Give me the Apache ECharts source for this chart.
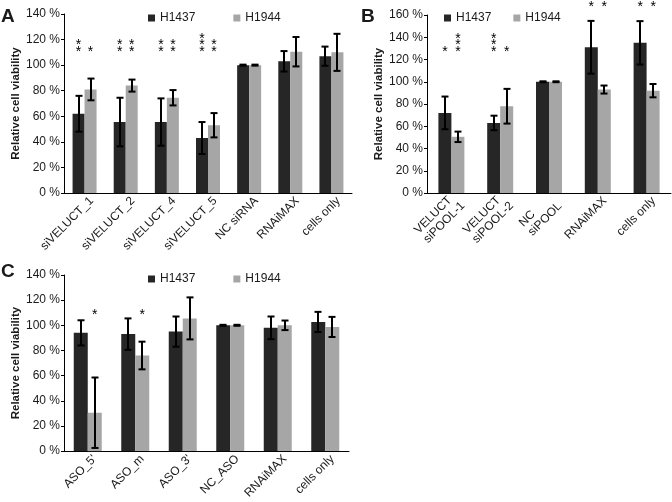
<!DOCTYPE html>
<html>
<head>
<meta charset="utf-8">
<script src="https://cdn.jsdelivr.net/npm/echarts@6/dist/echarts.min.js"></script>
<style>
html, body { margin: 0; padding: 0; background: #fff; }
#chart { width: 672px; height: 502px; }
</style>
</head>
<body>
<div id="chart"></div>
<script>
// panel A
const catsA = ['siVELUCT_1', 'siVELUCT_2', 'siVELUCT_4', 'siVELUCT_5', 'NC siRNA', 'RNAiMAX', 'cells only']
const h1437A = [62, 55.5, 55.5, 43, 100, 103, 107]
const h1437ErrA = [14, 19, 18.5, 12.5, 0.4, 8, 7.5]
const h1944A = [81, 84, 74.5, 53, 100, 110.5, 110]
const h1944ErrA = [8.5, 4.7, 6, 9.5, 0.4, 11.5, 14.5]
const starsH1437A = [2, 2, 2, 3, 0, 0, 0]
const starsH1944A = [1, 2, 2, 2, 0, 0, 0]
const starLevelA = [113, 113, 113, 113, 113, 113, 113]

// panel B
const catsB = ['VELUCT\nsiPOOL-1', 'VELUCT\nsiPOOL-2', 'NC\nsiPOOL', 'RNAiMAX', 'cells only']
const h1437B = [72, 63, 100, 131, 135]
const h1437ErrB = [14.7, 6.5, 0.4, 23.7, 19.5]
const h1944B = [50.5, 78, 100, 93, 92]
const h1944ErrB = [4.7, 15.6, 0.4, 3.6, 6]
const starsH1437B = [1, 3, 0, 1, 1]
const starsH1944B = [3, 1, 0, 1, 1]
const starLevelB = [130, 130, 130, 170, 170]

// panel C
const catsC = ['ASO_5\'', 'ASO_m', 'ASO_3\'', 'NC_ASO', 'RNAiMAX', 'cells only']
const h1437C = [94, 93, 95, 100, 98, 102.7]
const h1437ErrC = [10, 12.5, 12, 0.4, 9, 8]
const h1944C = [30.5, 76, 105.5, 100, 100, 98.7]
const h1944ErrC = [28, 11, 16.7, 0.4, 3.8, 8]
const starsH1437C = [0, 0, 0, 0, 0, 0]
const starsH1944C = [1, 1, 0, 0, 0, 0]
const starLevelC = [111, 111, 111, 111, 111, 111]

const yTicksA = [0, 20, 40, 60, 80, 100, 120, 140]
const yTicksB = [0, 20, 40, 60, 80, 100, 120, 140, 160]

const DARK = '#262626'
const LIGHT = '#a6a6a6'
const TXT = '#1a1a1a'
const FONT = 'Liberation Sans'

const myChart = echarts.init(document.getElementById('chart'))

// 两行标签左对齐
const measure = document.createElement('canvas').getContext('2d')
measure.font = '12px ' + FONT
const rich = {}
function labelFmt (v) {
  if (v.indexOf('\n') < 0) return v
  const lines = v.split('\n')
  const w = Math.ceil(Math.max(...lines.map(s => measure.measureText(s).width)))
  const key = 'w' + w
  rich[key] = { width: w, align: 'left', fontSize: 12, fontFamily: FONT, color: TXT, lineHeight: 13 }
  return lines.map(s => '{' + key + '|' + s + '}').join('\n')
}
catsB.forEach(labelFmt)

function xAxis (idx, cats) {
  return {
    type: 'category', gridIndex: idx, data: cats,
    axisLine: { lineStyle: { color: '#000', width: 1 } },
    axisTick: { length: 4, lineStyle: { color: '#000' } },
    axisLabel: {
      interval: 0, rotate: 45, margin: 6, fontSize: 12, color: TXT, fontFamily: FONT,
      lineHeight: 13, padding: [10, -5, 0, 0], formatter: labelFmt, rich: rich
    }
  }
}

function yAxis (idx, ticks) {
  return {
    type: 'value', gridIndex: idx,
    min: ticks[0], max: ticks[ticks.length - 1], interval: 20,
    name: 'Relative cell viability', nameLocation: 'middle', nameGap: 42,
    nameTextStyle: { fontSize: 11.5, fontWeight: 'bold', color: TXT, fontFamily: FONT },
    axisLine: { show: true, lineStyle: { color: '#000', width: 1 } },
    axisTick: { show: true, length: 3, lineStyle: { color: '#000' } },
    axisLabel: { formatter: '{value} %', margin: 4, fontSize: 12, color: TXT, fontFamily: FONT },
    splitLine: { show: false }
  }
}

function bars (idx, name, data, color, bw) {
  return {
    type: 'bar', name: name, xAxisIndex: idx, yAxisIndex: idx,
    data: data, barWidth: bw, barGap: '0%',
    itemStyle: { color: color }
  }
}

// 误差线
function errors (idx, means, errs, side, bw) {
  return {
    type: 'custom', xAxisIndex: idx, yAxisIndex: idx, z: 10, silent: true,
    data: means.map((m, i) => [i, m, errs[i]]),
    renderItem (params, api) {
      const i = api.value(0)
      const m = api.value(1)
      const e = api.value(2)
      const top = api.coord([i, m + e])
      const bot = api.coord([i, m - e])
      const x = Math.round(top[0] + side * bw / 2)
      const st = { stroke: '#000', lineWidth: 2 }
      return {
        type: 'group',
        children: [
          { type: 'line', shape: { x1: x, y1: top[1], x2: x, y2: bot[1] }, style: st },
          { type: 'line', shape: { x1: x - 3.5, y1: top[1], x2: x + 3.5, y2: top[1] }, style: st },
          { type: 'line', shape: { x1: x - 3.5, y1: bot[1], x2: x + 3.5, y2: bot[1] }, style: st }
        ]
      }
    }
  }
}

// 显著性星号
function stars (idx, counts, levels, side, bw) {
  return {
    type: 'custom', xAxisIndex: idx, yAxisIndex: idx, z: 10, silent: true, clip: false,
    data: counts.map((c, i) => [i, levels[i], c]),
    renderItem (params, api) {
      const c = api.value(2)
      if (!c) return null
      const p = api.coord([api.value(0), api.value(1)])
      const x = p[0] + side * bw / 2
      const children = []
      for (let k = 0; k < c; k++) {
        children.push({
          type: 'text',
          style: { text: '*', x: x, y: p[1] + 3.5 - k * 6.5, align: 'center', verticalAlign: 'middle', fontSize: 14, fontFamily: FONT, fill: '#000' }
        })
      }
      return { type: 'group', children: children }
    }
  }
}

function legend (left, top, gap) {
  return {
    data: ['H1437', 'H1944'], left: left, top: top, itemGap: gap,
    icon: 'rect', itemWidth: 7, itemHeight: 7, itemStyle: { borderWidth: 0 },
    textStyle: { fontSize: 12, color: TXT, fontFamily: FONT },
    selectedMode: false
  }
}

const letter = { fontSize: 19, fontWeight: 'bold', color: TXT, fontFamily: FONT }

myChart.setOption({
  animation: false,
  title: [
    { text: 'A', left: 1, top: 7, padding: 0, textStyle: letter },
    { text: 'B', left: 361, top: 7, padding: 0, textStyle: letter },
    { text: 'C', left: 1, top: 262, padding: 0, textStyle: letter }
  ],
  legend: [legend(143, 7, 38), legend(439, 7, 22), legend(143, 268, 38)],
  grid: [
    { left: 64, right: 320, top: 14, bottom: 309 },
    { left: 427, right: 1, top: 15, bottom: 309 },
    { left: 64, right: 323, top: 275, bottom: 48 }
  ],
  xAxis: [xAxis(0, catsA), xAxis(1, catsB), xAxis(2, catsC)],
  yAxis: [yAxis(0, yTicksA), yAxis(1, yTicksB), yAxis(2, yTicksA)],
  series: [
    bars(0, 'H1437', h1437A, DARK, 12),
    bars(0, 'H1944', h1944A, LIGHT, 12),
    errors(0, h1437A, h1437ErrA, -1, 12),
    errors(0, h1944A, h1944ErrA, 1, 12),
    stars(0, starsH1437A, starLevelA, -1, 12),
    stars(0, starsH1944A, starLevelA, 1, 12),

    bars(1, 'H1437', h1437B, DARK, 13),
    bars(1, 'H1944', h1944B, LIGHT, 13),
    errors(1, h1437B, h1437ErrB, -1, 13),
    errors(1, h1944B, h1944ErrB, 1, 13),
    stars(1, starsH1437B, starLevelB, -1, 13),
    stars(1, starsH1944B, starLevelB, 1, 13),

    bars(2, 'H1437', h1437C, DARK, 14),
    bars(2, 'H1944', h1944C, LIGHT, 14),
    errors(2, h1437C, h1437ErrC, -1, 14),
    errors(2, h1944C, h1944ErrC, 1, 14),
    stars(2, starsH1437C, starLevelC, -1, 14),
    stars(2, starsH1944C, starLevelC, 1, 14)
  ]
})
</script>
</body>
</html>
